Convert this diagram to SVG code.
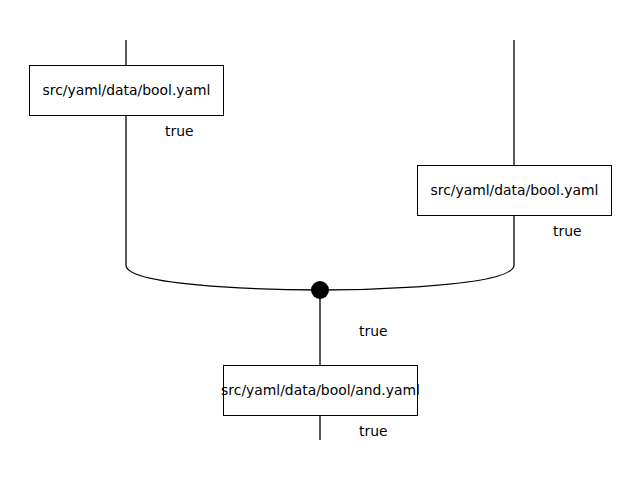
<svg xmlns="http://www.w3.org/2000/svg" width="640" height="480" viewBox="0 0 640 480">
  <style>
    .wire { fill: none; stroke: #000; stroke-width: 1.3; }
    .box rect { fill: #fff; stroke: #000; stroke-width: 1; }
    text { font-family: "DejaVu Sans", sans-serif; font-size: 13.9px; fill: #000; }
    .box text { text-anchor: middle; dominant-baseline: central; }
  </style>
  <rect width="640" height="480" fill="#fff"/>
  <g id="connectors">
    <path class="wire" d="M126,40 V65 M126,115 V265 C126,290 320,290 320,290"/>
    <path class="wire" d="M514,40 V165 M514,215 V265 C514,290 320,290 320,290"/>
    <path class="wire" d="M320,290 V365 M320,415 V440"/>
    <circle cx="320" cy="290" r="9" fill="#000"/>
    <text x="165" y="136">true</text>
    <text x="553" y="236">true</text>
    <text x="359" y="336">true</text>
    <text x="359" y="436">true</text>
  </g>
  <g id="bool-left" class="box">
    <rect x="29.5" y="65.5" width="194" height="50"/>
    <text x="126.5" y="90">src/yaml/data/bool.yaml</text>
  </g>
  <g id="bool-right" class="box">
    <rect x="417.5" y="165.5" width="194" height="50"/>
    <text x="514.5" y="190">src/yaml/data/bool.yaml</text>
  </g>
  <g id="and" class="box">
    <rect x="223.5" y="365.5" width="194" height="50"/>
    <text x="320.5" y="390">src/yaml/data/bool/and.yaml</text>
  </g>
</svg>
